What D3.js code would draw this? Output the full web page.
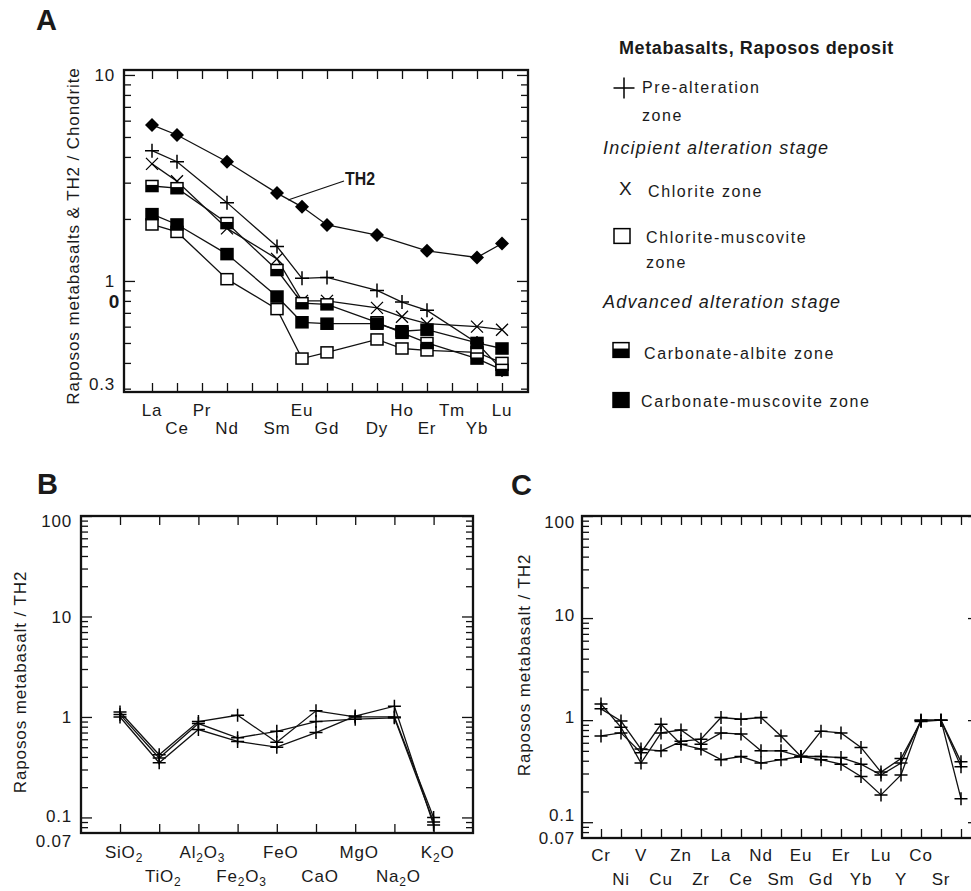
<!DOCTYPE html>
<html>
<head>
<meta charset="utf-8">
<script src="https://cdn.jsdelivr.net/npm/d3@7"></script>
<style>
  body { margin: 0; background: #fff; }
  svg text { font-family: "Liberation Sans", Arial, sans-serif; fill: #1a1a1a; }
</style>
</head>
<body>
<script>
////////// data //////////

// panel A : REE normalised to chondrite
var reeCats   = ["La","Ce","Pr","Nd","Pm","Sm","Eu","Gd","Tb","Dy","Ho","Er","Tm","Yb","Lu"];
var reeLabels = ["La","Ce","Pr","Nd","","Sm","Eu","Gd","","Dy","Ho","Er","Tm","Yb","Lu"];
var th2      = [5.72,5.11,null,3.79,null,2.67,2.29,1.87,null,1.67,null,1.40,null,1.30,1.52];
var preAlt   = [4.29,3.79,null,2.40,null,1.47,1.03,1.04,null,0.90,0.79,0.72,null,0.50,0.37];
var chlorite = [3.70,3.05,null,1.80,null,1.28,0.80,0.80,null,0.74,0.67,0.62,null,0.60,0.58];
var chlMusc  = [1.88,1.73,null,1.02,null,0.73,0.42,0.45,null,0.52,0.47,0.46,null,0.45,0.40];
var carbAlb  = [2.89,2.82,null,1.91,null,1.13,0.78,0.77,null,0.63,0.56,0.50,null,0.42,0.37];
var carbMusc = [2.11,1.88,null,1.35,null,0.84,0.63,0.62,null,0.62,0.57,0.58,null,0.50,0.47];

// panel B : major oxides, metabasalt / TH2
var oxides = ["SiO2","TiO2","Al2O3","Fe2O3","FeO","CaO","MgO","Na2O","K2O"];
var oxB1 = [1.12,0.42,0.90,1.04,0.56,1.15,1.00,1.00,0.100];
var oxB2 = [1.06,0.39,0.86,0.62,0.72,0.90,0.95,0.98,0.090];
var oxB3 = [1.00,0.35,0.75,0.57,0.50,0.70,1.02,1.28,0.084];

// panel C : trace elements, metabasalt / TH2 (last column cut by the page edge)
var traceCats   = ["Cr","Ni","V","Cu","Zn","Zr","La","Ce","Nd","Sm","Eu","Gd","Er","Yb","Lu","Y","Co","Sr","cut"];
var traceLabels = ["Cr","Ni","V","Cu","Zn","Zr","La","Ce","Nd","Sm","Eu","Gd","Er","Yb","Lu","Y","Co","Sr",""];
var trC1 = [1.29,0.98,0.52,0.50,0.62,0.65,1.06,1.02,1.06,0.70,0.44,0.44,0.43,0.37,0.29,0.38,1.00,1.00,0.39];
var trC2 = [1.44,0.85,0.38,0.75,0.80,0.58,0.75,0.73,0.50,0.50,0.44,0.78,0.75,0.54,0.31,0.42,0.97,1.00,0.35];
var trC3 = [0.70,0.75,0.48,0.91,0.58,0.52,0.41,0.44,0.38,0.41,0.44,0.41,0.37,0.28,0.185,0.29,1.00,1.00,0.17];

// tick values
var minorA  = [0.3,0.4,0.5,0.6,0.7,0.8,0.9,2,3,4,5,6,7,8,9];
var majorA  = [1,10];
var labelsA = [0.3,1,10];
var minorBC  = [0.08,0.09,0.2,0.3,0.4,0.5,0.6,0.7,0.8,0.9,2,3,4,5,6,7,8,9,20,30,40,50,60,70,80,90];
var majorBC  = [0.1,1,10,100];
var labelsBC = [0.07,0.1,1,10,100];

var svg = d3.select("body").append("svg")
    .attr("width", 971)
    .attr("height", 891);

svg.append("rect").attr("width", 971).attr("height", 891).attr("fill", "#fff");

////////// helpers //////////

function cleanAxis(sel) {
  sel.select(".domain").remove();
  sel.attr("font-size", null).attr("font-family", null);
  sel.selectAll("line").attr("stroke", "#111").attr("stroke-width", 1.3);
}

function panel(p) {
  var g = svg.append("g");
  var x = d3.scalePoint().domain(p.cats).range(p.xr);
  var y = d3.scaleLog().domain(p.yd).range([p.b, p.t]);

  // left
  g.append("g").attr("transform", "translate(" + p.l + ",0)")
      .call(d3.axisLeft(y).tickValues(p.minor).tickSize(-7).tickFormat(""))
      .call(cleanAxis);
  g.append("g").attr("transform", "translate(" + p.l + ",0)")
      .call(d3.axisLeft(y).tickValues(p.major).tickSize(-11).tickFormat(""))
      .call(cleanAxis);
  var lab = g.append("g").attr("transform", "translate(" + p.l + ",0)")
      .call(d3.axisLeft(y).tickValues(p.labels).tickSize(0).tickPadding(p.pad)
        .tickFormat(function(d) { return d3.format("~g")(d); }))
      .call(cleanAxis);
  lab.selectAll("text")
      .attr("font-size", 17)
      .attr("letter-spacing", 0.8)
      .attr("fill", "#2a2a2a")
      .attr("dy", function(d) { return (p.shift[d] || 0) + 6; });

  // right
  g.append("g").attr("transform", "translate(" + p.r + ",0)")
      .call(d3.axisRight(y).tickValues(p.minor).tickSize(-7).tickFormat(""))
      .call(cleanAxis);
  g.append("g").attr("transform", "translate(" + p.r + ",0)")
      .call(d3.axisRight(y).tickValues(p.major).tickSize(-11).tickFormat(""))
      .call(cleanAxis);

  // top / bottom
  g.append("g").attr("transform", "translate(0," + p.t + ")")
      .call(d3.axisTop(x).tickSize(-9).tickFormat(""))
      .call(cleanAxis);
  g.append("g").attr("transform", "translate(0," + p.b + ")")
      .call(d3.axisBottom(x).tickSize(-9).tickFormat(""))
      .call(cleanAxis);

  g.append("rect")
      .attr("x", p.l).attr("y", p.t)
      .attr("width", p.r - p.l).attr("height", p.b - p.t)
      .attr("fill", "none").attr("stroke", "#111").attr("stroke-width", 2.3);

  // category labels, staggered on two rows
  var cl = g.append("g").selectAll("text")
      .data(p.cats.map(function(c, i) { return {c: c, t: p.catLabels[i], i: i}; })
        .filter(function(d) { return d.t !== ""; }))
    .enter().append("text")
      .attr("x", function(d) { return x(d.c) + p.labDx; })
      .attr("y", function(d) { return d.i % 2 ? p.row2 : p.row1; })
      .attr("text-anchor", "middle")
      .attr("font-size", 17)
      .attr("letter-spacing", 0.8)
      .attr("fill", "#2a2a2a");
  cl.each(function(d) {
    var t = d3.select(this);
    if (!p.subs) { t.text(d.t); return; }
    // digits in oxide formulas are subscripts
    var parts = d.t.match(/[0-9]+|[^0-9]+/g), down = false;
    parts.forEach(function(s) {
      var isSub = /^[0-9]+$/.test(s);
      var ts = t.append("tspan").text(s);
      if (isSub) { ts.attr("font-size", 12).attr("dy", 4); down = true; }
      else if (down) { ts.attr("dy", -4); down = false; }
    });
  });

  // y title
  g.append("text")
      .attr("transform", "translate(" + p.titleX + "," + p.titleY + ") rotate(-90)")
      .attr("text-anchor", "middle")
      .attr("dominant-baseline", "central")
      .attr("font-size", 17)
      .attr("letter-spacing", 0.9)
      .attr("fill", "#2a2a2a")
      .text(p.title);

  // panel letter
  g.append("text")
      .attr("x", p.letterX).attr("y", p.letterY)
      .attr("font-size", 29).attr("font-weight", "bold")
      .attr("fill", "#000")
      .text(p.letter);

  return {g: g, x: x, y: y, cats: p.cats};
}

function series(P, vals) {
  var pts = P.cats.map(function(c, i) { return {c: c, v: vals[i]}; })
      .filter(function(d) { return d.v != null; });
  var line = d3.line()
      .x(function(d) { return P.x(d.c); })
      .y(function(d) { return P.y(d.v); });
  P.g.append("path")
      .datum(pts)
      .attr("d", line)
      .attr("fill", "none")
      .attr("stroke", "#111")
      .attr("stroke-width", 1.3);
  return pts;
}

function markers(P, pts, type, sz) {
  P.g.append("g").selectAll("g")
      .data(pts)
    .enter().append("g")
      .attr("transform", function(d) { return "translate(" + P.x(d.c) + "," + P.y(d.v) + ")"; })
      .each(function() { drawSymbol(d3.select(this), type, sz); });
}

function drawSymbol(s, type, sz) {
  var h = sz / 2;
  if (type === "diamond") {
    s.append("path").attr("d", "M0," + (-h) + "L" + h + ",0L0," + h + "L" + (-h) + ",0Z")
        .attr("fill", "#000");
  } else if (type === "plus") {
    s.append("path").attr("d", "M" + (-h) + ",0H" + h + "M0," + (-h) + "V" + h)
        .attr("stroke", "#000").attr("stroke-width", 1.5).attr("fill", "none");
  } else if (type === "cross") {
    s.append("path").attr("d", "M" + (-h) + "," + (-h) + "L" + h + "," + h + "M" + (-h) + "," + h + "L" + h + "," + (-h))
        .attr("stroke", "#000").attr("stroke-width", 1.3).attr("fill", "none");
  } else {
    var w = sz, hh = sz * 0.92;
    s.append("rect").attr("x", -w / 2).attr("y", -hh / 2).attr("width", w).attr("height", hh)
        .attr("fill", type === "filled" ? "#000" : "#fff")
        .attr("stroke", "#000").attr("stroke-width", 1.5);
    if (type === "half") {
      s.append("rect").attr("x", -w / 2).attr("y", -hh / 2 + hh * 0.4).attr("width", w).attr("height", hh * 0.6)
          .attr("fill", "#000");
    }
  }
}

////////// panel A //////////

var A = panel({
  cats: reeCats, catLabels: reeLabels, xr: [152, 502], yd: [0.289, 10.57],
  l: 124, r: 528, t: 70, b: 392,
  minor: minorA, major: majorA, labels: labelsA, pad: 9, shift: {0.3: -5},
  row1: 416, row2: 434, labDx: 0, subs: false,
  title: "Raposos metabasalts & TH2 / Chondrite", titleX: 73, titleY: 236,
  letter: "A", letterX: 36, letterY: 30
});

A.g.append("text")
    .attr("x", 114).attr("y", 308)
    .attr("text-anchor", "middle")
    .attr("font-size", 19).attr("font-weight", "bold").attr("fill", "#000")
    .text("0");

var aSeries = [
  [th2, "diamond", 14], [preAlt, "plus", 14], [chlorite, "cross", 12],
  [chlMusc, "open", 12], [carbAlb, "half", 12], [carbMusc, "filled", 12]
];
var aPts = aSeries.map(function(s) { return series(A, s[0]); });
aSeries.forEach(function(s, i) { markers(A, aPts[i], s[1], s[2]); });

// TH2 pointer
A.g.append("line")
    .attr("x1", 288).attr("y1", 200).attr("x2", 344).attr("y2", 181)
    .attr("stroke", "#111").attr("stroke-width", 1.3);
A.g.append("text")
    .attr("x", 345).attr("y", 185)
    .attr("font-size", 19).attr("font-weight", "bold").attr("fill", "#111")
    .attr("textLength", 30).attr("lengthAdjust", "spacingAndGlyphs")
    .text("TH2");

////////// legend //////////

var leg = svg.append("g");
leg.append("text").attr("x", 619).attr("y", 54)
    .attr("font-size", 18).attr("font-weight", "bold").attr("letter-spacing", 0.6).attr("fill", "#000")
    .text("Metabasalts, Raposos deposit");

function legText(x, y, t, italic) {
  leg.append("text").attr("x", x).attr("y", y)
      .attr("font-size", italic ? 18 : 16)
      .attr("font-style", italic ? "italic" : null)
      .attr("letter-spacing", italic ? 1.2 : 1.6)
      .attr("fill", "#1a1a1a")
      .text(t);
}

drawSymbol(leg.append("g").attr("transform", "translate(624,88)"), "plus", 21);
legText(642, 93, "Pre-alteration");
legText(642, 121, "zone");
legText(603, 154, "Incipient alteration stage", true);
leg.append("text").attr("x", 619).attr("y", 195).attr("font-size", 19).attr("fill", "#111").text("X");
legText(648, 197, "Chlorite zone");
drawSymbol(leg.append("g").attr("transform", "translate(622,236)"), "open", 16);
legText(646, 243, "Chlorite-muscovite");
legText(646, 268, "zone");
legText(603, 308, "Advanced alteration stage", true);
drawSymbol(leg.append("g").attr("transform", "translate(621,350)"), "half", 16);
legText(644, 359, "Carbonate-albite zone");
drawSymbol(leg.append("g").attr("transform", "translate(621,400)"), "filled", 16);
legText(641, 407, "Carbonate-muscovite zone");

////////// panel B //////////

var B = panel({
  cats: oxides, catLabels: oxides, xr: [120, 433.6], yd: [0.07, 100],
  l: 81, r: 473, t: 516, b: 833,
  minor: minorBC, major: majorBC, labels: labelsBC, pad: 9, shift: {0.07: 7, 0.1: -2, 100: 4},
  row1: 858, row2: 882, labDx: 4, subs: true,
  title: "Raposos metabasalt / TH2", titleX: 20, titleY: 682,
  letter: "B", letterX: 37, letterY: 494
});
[oxB1, oxB2, oxB3].forEach(function(v) { markers(B, series(B, v), "plus", 13); });

////////// panel C //////////

var C = panel({
  cats: traceCats, catLabels: traceLabels, xr: [601, 961], yd: [0.07, 100],
  l: 582, r: 979, t: 516, b: 838,
  minor: minorBC, major: majorBC, labels: labelsBC, pad: 7, shift: {0.07: -1, 0.1: -8, 1: -4, 10: -4, 100: 5},
  row1: 861, row2: 885, labDx: 0, subs: false,
  title: "Raposos metabasalt / TH2", titleX: 524, titleY: 665,
  letter: "C", letterX: 511, letterY: 495
});
[trC1, trC2, trC3].forEach(function(v) { markers(C, series(C, v), "plus", 13); });
</script>
</body>
</html>
